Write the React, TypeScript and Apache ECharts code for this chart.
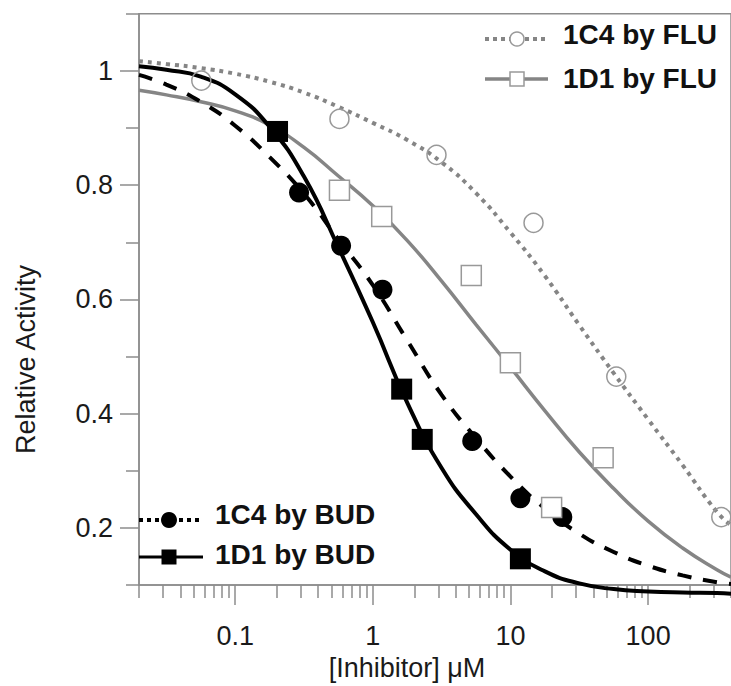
import React, { useEffect, useRef } from "react";
import * as echarts from "echarts";

// ---- marker data ----
const fluC4X = [0.0567, 0.572, 2.9, 14.7, 58.7, 340];
const fluC4Y = [0.983, 0.916, 0.853, 0.734, 0.465, 0.219];
const fluD1X = [0.572, 1.16, 5.19, 9.98, 19.9, 47.1];
const fluD1Y = [0.791, 0.745, 0.642, 0.489, 0.236, 0.323];
const budC4X = [0.291, 0.588, 1.175, 5.27, 11.8, 23.8];
const budC4Y = [0.787, 0.694, 0.617, 0.352, 0.252, 0.219];
const budD1X = [0.203, 1.62, 2.285, 11.8];
const budD1Y = [0.894, 0.443, 0.355, 0.146];

// ---- fitted curves: heights at these concentrations ----
const curveX = [0.02, 0.0316, 0.0562, 0.1, 0.178, 0.316, 0.562, 1, 1.78, 3.16, 5.62, 10, 17.8, 31.6, 56.2, 100, 178, 316, 400];
const curveFluC4Y = [1.017, 1.012, 1.005, 0.995, 0.981, 0.962, 0.937, 0.909, 0.879, 0.84, 0.786, 0.717, 0.641, 0.555, 0.471, 0.39, 0.31, 0.228, 0.205];
const curveFluD1Y = [0.966, 0.958, 0.946, 0.93, 0.905, 0.866, 0.816, 0.764, 0.703, 0.632, 0.556, 0.481, 0.405, 0.333, 0.269, 0.212, 0.165, 0.127, 0.114];
const curveBudC4Y = [0.993, 0.976, 0.946, 0.904, 0.849, 0.785, 0.705, 0.625, 0.528, 0.433, 0.357, 0.29, 0.234, 0.19, 0.158, 0.134, 0.117, 0.105, 0.102];
const curveBudD1Y = [1.008, 1.002, 0.99, 0.959, 0.902, 0.815, 0.691, 0.56, 0.419, 0.305, 0.224, 0.162, 0.124, 0.103, 0.093, 0.089, 0.087, 0.086, 0.085];

// ---- axes ----
const xMajorTicks = [0.1, 1, 10, 100];
const xMinorTicks = [
  0.02, 0.03, 0.04, 0.05, 0.06, 0.07, 0.08, 0.09,
  0.2, 0.3, 0.4, 0.5, 0.6, 0.7, 0.8, 0.9,
  2, 3, 4, 5, 6, 7, 8, 9,
  20, 30, 40, 50, 60, 70, 80, 90,
  200, 300, 400,
];
const yMajorTicks = [0.2, 0.4, 0.6, 0.8, 1];
const yMinorTicks = [0.1, 0.3, 0.5, 0.7, 0.9, 1.1];

const legendFlu = ["1C4 by FLU", "1D1 by FLU"];
const legendBud = ["1C4 by BUD", "1D1 by BUD"];

const zip = (xs: number[], ys: number[]) => xs.map((x, i) => [x, ys[i]]);

const FONT = "'Liberation Sans', Arial, sans-serif";
const AXIS = "#8c8c8c";
const GREY = "#858585";

export default function App() {
  const ref = useRef<HTMLDivElement>(null);
  useEffect(() => {
    if (!ref.current) return;
    const chart = echarts.init(ref.current, null, { renderer: "svg" });
    const xBase = {
      type: "log" as const,
      logBase: 10,
      min: 0.02,
      max: 400,
      gridIndex: 0,
      position: "bottom" as const,
      splitLine: { show: false },
      minorTick: { show: false },
    };
    const yBase = {
      type: "value" as const,
      min: 0.1,
      max: 1.1,
      position: "left" as const,
      splitLine: { show: false },
    };
    const curve = (name: string, ys: number[], lineStyle: any) => ({
      name,
      type: "line",
      data: zip(curveX, ys),
      symbol: "none",
      smooth: 0.5,
      clip: false,
      lineStyle,
      z: 2,
    });
    const option: any = {
      animation: false,
      backgroundColor: "#ffffff",
      grid: {
        left: 139,
        top: 13.75,
        width: 595.7,
        height: 572.75,
        show: true,
        borderColor: AXIS,
        borderWidth: 1.5,
        backgroundColor: "transparent",
      },
      xAxis: [
        {
          ...xBase,
          axisLine: { show: true, onZero: false, lineStyle: { color: AXIS, width: 1.5 } },
          axisTick: { show: true, customValues: xMajorTicks, length: 20, lineStyle: { color: AXIS, width: 1.5 } },
          axisLabel: {
            show: true,
            customValues: xMajorTicks,
            margin: 37,
            fontSize: 27,
            fontFamily: FONT,
            color: "#1a1a1a",
            formatter: (v: number) => String(v),
          },
          name: "[Inhibitor] μM",
          nameLocation: "middle",
          nameGap: 68,
          nameTextStyle: { fontSize: 27, fontFamily: FONT, color: "#1a1a1a", padding: [0, 56, 0, 0] },
        },
        {
          ...xBase,
          axisLine: { show: false, onZero: false },
          axisTick: { show: true, customValues: xMinorTicks, length: 13, lineStyle: { color: AXIS, width: 1.5 } },
          axisLabel: { show: false },
        },
      ],
      yAxis: [
        {
          ...yBase,
          axisLine: { show: true, lineStyle: { color: AXIS, width: 1.5 } },
          axisTick: { show: true, customValues: yMajorTicks, length: 19, lineStyle: { color: AXIS, width: 1.5 } },
          axisLabel: {
            show: true,
            customValues: yMajorTicks,
            margin: 26,
            fontSize: 27,
            fontFamily: FONT,
            color: "#1a1a1a",
            formatter: (v: number) => (v === 1 ? "1" : v.toFixed(1)),
          },
          name: "Relative Activity",
          nameLocation: "middle",
          nameGap: 100,
          nameTextStyle: { fontSize: 27, fontFamily: FONT, color: "#1a1a1a", padding: [0, 120, 0, 0] },
        },
        {
          ...yBase,
          axisLine: { show: false },
          axisTick: { show: true, customValues: yMinorTicks, length: 13, lineStyle: { color: AXIS, width: 1.5 } },
          axisLabel: { show: false },
        },
      ],
      series: [
        curve("1C4 by FLU fit", curveFluC4Y, { color: GREY, width: 4, type: [4, 5], cap: "butt" }),
        curve("1D1 by FLU fit", curveFluD1Y, { color: GREY, width: 3.5 }),
        curve("1C4 by BUD fit", curveBudC4Y, { color: "#000", width: 4, type: [14, 12] }),
        curve("1D1 by BUD fit", curveBudD1Y, { color: "#000", width: 4 }),
        {
          name: "1C4 by FLU",
          type: "scatter",
          data: zip(fluC4X, fluC4Y),
          symbol: "circle",
          symbolSize: 19,
          itemStyle: { color: "rgba(255,255,255,0)", borderColor: "#999", borderWidth: 1.5, opacity: 1 },
          clip: false,
          z: 3,
        },
        {
          name: "1C4 by BUD",
          type: "scatter",
          data: zip(budC4X, budC4Y),
          symbol: "circle",
          symbolSize: 20,
          itemStyle: { color: "#000", opacity: 1 },
          clip: false,
          z: 3,
        },
        {
          name: "1D1 by FLU",
          type: "scatter",
          data: zip(fluD1X, fluD1Y),
          symbol: "rect",
          symbolSize: 20,
          itemStyle: { color: "#fff", borderColor: "#999", borderWidth: 1.5, opacity: 1 },
          clip: false,
          z: 4,
        },
        {
          name: "1D1 by BUD",
          type: "scatter",
          data: zip(budD1X, budD1Y),
          symbol: "rect",
          symbolSize: 21,
          itemStyle: { color: "#000", opacity: 1 },
          clip: false,
          z: 4,
        },
      ],
      graphic: [
        // FLU legend (top right)
        { type: "line", shape: { x1: 485, y1: 39, x2: 548, y2: 39 }, style: { stroke: GREY, lineWidth: 4, lineDash: [4, 4] }, z: 10 },
        { type: "circle", shape: { cx: 517, cy: 39, r: 7 }, style: { fill: "#fff", stroke: "#999", lineWidth: 1.5 }, z: 11 },
        { type: "text", left: 563, top: 20, style: { text: legendFlu[0], font: `bold 28px ${FONT}`, fill: "#111" }, z: 11 },
        { type: "line", shape: { x1: 485, y1: 79, x2: 548, y2: 79 }, style: { stroke: GREY, lineWidth: 3.5 }, z: 10 },
        { type: "rect", shape: { x: 510, y: 72, width: 14, height: 14 }, style: { fill: "#fff", stroke: "#999", lineWidth: 1.5 }, z: 11 },
        { type: "text", left: 563, top: 64, style: { text: legendFlu[1], font: `bold 28px ${FONT}`, fill: "#111" }, z: 11 },
        // BUD legend (bottom left)
        { type: "line", shape: { x1: 139, y1: 520, x2: 202, y2: 520 }, style: { stroke: "#000", lineWidth: 4, lineDash: [4, 4] }, z: 10 },
        { type: "circle", shape: { cx: 169, cy: 520, r: 8 }, style: { fill: "#000" }, z: 11 },
        { type: "text", left: 215, top: 500, style: { text: legendBud[0], font: `bold 28px ${FONT}`, fill: "#111" }, z: 11 },
        { type: "line", shape: { x1: 139, y1: 557, x2: 203, y2: 557 }, style: { stroke: "#000", lineWidth: 3 }, z: 10 },
        { type: "rect", shape: { x: 161.5, y: 549.5, width: 15, height: 15 }, style: { fill: "#000" }, z: 11 },
        { type: "text", left: 215, top: 540, style: { text: legendBud[1], font: `bold 28px ${FONT}`, fill: "#111" }, z: 11 },
      ],
    };
    chart.setOption(option);
    return () => chart.dispose();
  }, []);
  return (
    <div
      ref={ref}
      style={{ position: "absolute", left: 0, top: 0, width: 731, height: 686, background: "#fff" }}
    />
  );
}
